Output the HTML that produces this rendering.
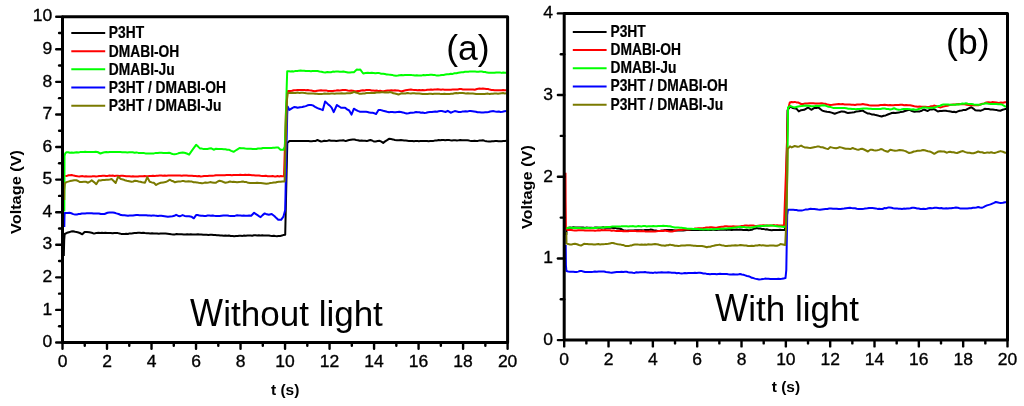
<!DOCTYPE html>
<html><head><meta charset="utf-8"><style>
html,body{margin:0;padding:0;background:#fff;width:1024px;height:406px;overflow:hidden}
svg{display:block;will-change:transform}
text{font-family:"Liberation Sans",sans-serif;fill:#000}
.tl{font-size:17.5px;stroke:#000;stroke-width:0.35px}
.lg{font-size:13.8px;font-weight:bold;stroke:#000;stroke-width:0.2px}
.at{font-size:16px;font-weight:bold}
.xt{font-size:15.5px;font-weight:bold}
.pl{font-size:35.5px}
.big{font-size:35px}
</style></head><body>
<svg width="1024" height="406" viewBox="0 0 1024 406">
<rect width="1024" height="406" fill="#fff"/>
<path d="M63.8,256.0 L64.2,240.0 L64.7,234.0 L67.0,232.8 L69.0,232.2 L70.9,231.6 L72.9,231.3 L75.2,231.8 L77.6,232.2 L79.9,233.0 L82.3,234.3 L84.6,232.0 L86.9,232.1 L89.3,232.2 L91.7,232.8 L94.0,233.6 L96.3,233.0 L98.7,232.8 L100.3,232.9 L102.0,232.7 L103.6,232.9 L105.3,232.8 L106.9,233.1 L108.8,232.9 L110.7,233.1 L112.5,233.3 L114.4,232.9 L116.3,233.1 L117.9,233.1 L119.6,233.5 L121.2,233.9 L122.9,233.9 L124.5,234.0 L126.2,233.8 L127.9,234.0 L129.6,233.4 L131.3,233.6 L132.9,233.2 L134.6,233.0 L136.3,232.9 L138.0,232.8 L139.7,232.8 L141.5,233.1 L143.2,232.8 L145.0,233.1 L146.8,233.3 L148.5,233.2 L150.3,233.4 L152.0,233.3 L153.8,233.6 L155.5,233.4 L157.1,233.5 L158.8,233.7 L160.5,233.6 L162.2,233.5 L163.8,233.6 L165.5,233.6 L167.5,233.8 L169.4,234.0 L171.4,234.3 L173.1,234.4 L174.8,234.4 L176.6,234.1 L178.3,234.3 L180.0,234.2 L181.8,234.2 L183.6,234.4 L185.4,234.4 L187.2,234.2 L189.0,234.6 L190.8,234.2 L192.6,234.4 L194.4,234.4 L196.1,234.6 L197.9,234.3 L199.6,234.6 L201.4,234.4 L203.2,234.7 L204.9,234.8 L206.7,234.8 L208.4,234.9 L210.2,234.8 L211.9,234.8 L213.5,235.1 L215.2,235.1 L216.9,235.2 L218.6,235.2 L220.2,235.5 L221.9,235.4 L223.7,235.7 L225.4,235.5 L227.2,235.7 L228.9,235.5 L230.7,235.9 L232.5,235.9 L234.2,236.2 L236.0,236.0 L237.6,236.1 L239.2,235.8 L240.9,235.8 L242.5,235.9 L244.1,235.5 L245.7,235.7 L247.4,235.5 L249.0,235.4 L250.6,235.4 L252.2,235.7 L253.9,235.3 L255.5,235.3 L257.1,235.4 L258.8,235.3 L260.4,235.6 L262.1,235.2 L263.8,235.4 L265.5,235.4 L267.1,235.6 L268.8,235.4 L270.4,235.7 L272.1,235.9 L273.7,235.8 L275.4,236.1 L277.0,236.3 L278.6,235.9 L280.3,235.9 L281.9,235.6 L283.6,234.9 L285.2,234.8 L286.2,190.0 L287.3,143.0 L289.4,141.1 L291.1,140.9 L292.9,141.0 L294.6,141.0 L296.4,141.1 L298.1,141.1 L299.9,141.1 L301.6,141.0 L303.3,140.9 L305.0,141.1 L306.7,141.0 L308.4,141.1 L310.1,141.3 L311.8,141.2 L313.5,141.1 L315.2,141.1 L317.5,140.0 L319.2,140.8 L321.0,141.5 L322.6,141.3 L324.3,140.8 L325.9,141.0 L327.6,140.7 L329.2,140.3 L331.0,140.7 L332.8,140.8 L334.5,140.8 L336.3,141.1 L338.1,140.8 L339.8,140.5 L341.6,140.6 L343.3,140.3 L345.7,141.1 L347.4,140.5 L349.2,140.0 L350.9,139.7 L352.7,139.4 L354.4,139.6 L356.2,140.0 L357.9,140.2 L359.7,140.8 L361.5,140.6 L363.2,140.8 L365.0,140.8 L366.8,141.1 L368.6,140.5 L370.3,140.0 L372.1,140.5 L373.8,141.5 L375.7,141.5 L377.7,141.1 L379.6,140.8 L381.4,141.7 L383.2,142.9 L385.1,141.4 L387.1,140.1 L389.0,138.8 L391.0,139.1 L392.9,139.4 L394.9,140.0 L396.9,140.2 L398.9,140.2 L400.9,140.0 L402.5,140.2 L404.2,140.4 L405.8,140.5 L407.5,140.7 L409.1,141.1 L410.7,141.0 L412.3,141.0 L414.0,141.3 L415.6,140.9 L417.2,140.9 L418.8,141.3 L420.5,141.1 L422.1,140.9 L423.7,141.1 L425.3,140.9 L427.0,141.1 L428.6,141.3 L430.2,141.1 L431.9,141.1 L433.5,140.9 L435.2,140.5 L436.9,140.4 L438.6,140.1 L440.2,140.3 L441.9,140.0 L443.6,140.0 L445.2,140.2 L446.9,140.0 L448.6,139.9 L450.3,140.3 L451.9,140.4 L453.6,140.3 L455.3,140.3 L456.9,140.4 L458.6,140.3 L460.3,140.1 L462.0,140.3 L463.6,140.2 L465.3,140.3 L467.3,140.3 L469.2,140.6 L471.2,141.1 L472.9,140.9 L474.5,140.8 L476.2,140.9 L477.9,140.9 L479.6,140.5 L481.2,140.6 L482.9,140.3 L484.9,140.9 L486.8,141.3 L488.8,141.5 L490.4,141.4 L492.0,141.2 L493.6,141.2 L495.2,141.1 L496.8,141.0 L498.5,141.2 L500.1,141.3 L501.7,141.2 L503.3,140.9 L504.9,140.9 L506.5,140.8" fill="none" stroke="#000000" stroke-width="2.0" stroke-linejoin="round"/>
<path d="M65.3,176.0 L66.9,175.9 L68.5,175.3 L70.1,175.3 L71.7,175.0 L73.7,175.6 L75.6,175.9 L77.6,176.2 L79.3,176.4 L80.9,176.2 L82.6,176.1 L84.3,176.5 L86.0,176.3 L87.6,176.5 L89.3,176.4 L91.0,176.6 L92.6,176.2 L94.3,176.2 L96.0,176.4 L97.7,176.2 L99.3,175.9 L101.0,176.0 L102.7,175.8 L104.4,175.7 L106.1,176.0 L107.7,175.9 L109.4,175.5 L111.1,175.8 L112.8,175.6 L114.5,175.9 L116.1,175.8 L117.8,175.7 L119.5,175.9 L121.2,175.7 L122.8,175.7 L124.5,176.0 L126.2,176.3 L127.8,176.2 L129.5,176.2 L131.2,176.4 L132.9,176.3 L134.5,176.5 L136.2,176.4 L137.9,176.5 L139.5,176.2 L141.2,176.2 L142.9,176.2 L144.6,176.1 L146.2,176.3 L147.9,176.2 L149.6,176.0 L151.2,176.0 L152.9,175.8 L154.6,176.1 L156.3,175.7 L157.9,175.7 L159.6,175.6 L161.3,175.6 L163.0,175.8 L164.7,175.6 L166.4,175.8 L168.2,175.6 L169.9,175.6 L171.6,175.6 L173.3,175.4 L175.0,175.6 L176.7,175.6 L178.3,175.4 L180.0,175.4 L181.7,175.7 L183.4,175.4 L185.0,175.6 L186.7,175.6 L188.5,175.8 L190.2,175.8 L192.0,175.8 L193.8,176.0 L195.5,176.1 L197.3,176.3 L199.0,176.1 L200.8,176.4 L202.5,176.3 L204.2,176.0 L205.9,175.9 L207.6,176.0 L209.2,175.8 L210.9,175.7 L212.6,175.7 L214.3,175.6 L216.0,175.3 L217.8,175.2 L219.5,175.3 L221.3,175.2 L223.0,175.2 L224.8,175.2 L226.6,175.1 L228.3,175.1 L230.1,175.0 L231.8,175.3 L233.6,175.0 L235.3,175.1 L236.9,175.1 L238.6,175.1 L240.3,174.8 L242.0,174.9 L243.6,175.1 L245.3,174.8 L247.0,175.1 L248.7,174.8 L250.4,175.0 L252.0,175.2 L253.7,175.2 L255.4,175.4 L257.1,175.6 L258.9,175.5 L260.6,175.8 L262.4,176.0 L264.1,176.1 L265.9,175.8 L267.6,176.2 L269.4,176.2 L271.1,176.2 L272.7,176.0 L274.3,176.4 L275.9,176.4 L277.6,176.1 L279.2,176.4 L280.8,176.1 L282.4,176.2 L284.0,176.2 L284.8,150.0 L286.0,110.0 L287.6,91.2 L288.2,91.0 L290.1,91.0 L292.0,90.8 L293.8,90.2 L295.7,90.2 L297.6,90.0 L299.3,90.1 L300.9,90.0 L302.6,90.0 L304.3,90.1 L306.0,90.3 L307.6,90.0 L309.3,90.3 L311.3,90.6 L313.2,90.9 L315.2,91.2 L317.1,90.7 L319.1,90.5 L321.0,90.3 L322.7,90.5 L324.4,90.5 L326.1,90.4 L327.7,90.9 L329.4,90.9 L331.1,91.1 L332.8,91.0 L334.5,90.7 L336.1,90.6 L337.8,90.3 L339.5,90.6 L341.2,90.2 L342.8,90.0 L344.5,90.0 L346.2,90.1 L347.8,90.5 L349.5,90.7 L351.2,90.6 L352.9,90.7 L354.5,91.2 L356.2,91.2 L357.9,91.1 L359.5,91.0 L361.2,90.5 L362.9,90.3 L364.6,90.4 L366.2,90.1 L367.9,90.0 L369.7,89.9 L371.4,90.5 L373.2,90.5 L374.9,90.8 L376.7,90.5 L378.5,91.1 L380.2,90.8 L382.0,91.2 L383.9,91.2 L385.8,90.8 L387.6,90.6 L389.5,90.5 L391.4,90.3 L393.2,90.5 L395.0,90.3 L396.8,90.4 L398.5,90.6 L400.2,91.0 L402.0,91.2 L403.8,90.7 L405.6,90.3 L407.3,90.0 L409.1,89.8 L410.8,89.6 L412.5,89.8 L414.2,89.9 L415.9,89.9 L417.5,90.2 L419.2,90.0 L420.9,90.2 L422.6,90.1 L424.3,90.3 L426.0,90.1 L427.6,89.8 L429.3,89.8 L431.0,89.5 L432.7,89.8 L434.3,89.6 L436.0,89.4 L437.7,89.3 L439.4,89.5 L441.1,89.8 L442.7,89.4 L444.4,89.8 L446.1,89.7 L447.8,89.8 L449.5,89.7 L451.1,89.8 L452.8,89.4 L454.5,89.4 L456.2,89.4 L457.8,89.4 L459.5,89.1 L461.2,89.1 L462.9,89.4 L464.6,89.4 L466.3,89.5 L467.9,89.4 L469.6,89.5 L471.3,89.4 L473.0,89.5 L474.7,89.8 L477.0,89.0 L479.4,88.6 L481.1,88.8 L482.9,88.6 L484.6,88.7 L486.4,88.9 L488.0,89.0 L489.7,89.6 L491.3,89.9 L493.0,90.1 L494.6,90.3 L496.3,90.2 L498.0,90.2 L499.7,90.2 L501.4,90.3 L503.1,90.1 L504.8,90.3 L506.5,90.3" fill="none" stroke="#ff0000" stroke-width="2.0" stroke-linejoin="round"/>
<path d="M64.3,211.5 L64.5,156.0 L65.2,153.5 L66.4,152.3 L68.2,152.3 L69.9,152.7 L71.7,152.6 L73.4,152.8 L75.0,152.5 L76.7,152.2 L78.4,152.5 L80.1,152.1 L81.7,152.0 L83.4,152.0 L85.2,151.8 L86.9,151.9 L88.7,152.0 L90.5,152.0 L92.2,151.9 L94.0,152.0 L95.7,151.8 L97.5,152.0 L100.4,153.5 L102.5,152.8 L104.5,152.3 L106.3,152.1 L108.0,152.2 L109.8,152.0 L111.5,151.9 L113.3,152.0 L115.1,151.9 L116.8,152.1 L118.6,152.0 L120.4,152.1 L122.1,152.2 L123.9,152.2 L125.6,152.3 L127.4,152.4 L129.2,152.2 L130.9,152.2 L132.7,152.3 L134.6,152.7 L136.5,152.4 L138.3,152.9 L140.2,153.0 L142.1,153.1 L143.7,153.0 L145.4,153.4 L147.0,153.5 L148.7,153.5 L150.3,153.5 L152.2,153.5 L154.0,153.4 L155.9,152.9 L157.7,153.0 L159.6,152.8 L161.5,152.8 L163.4,153.0 L165.2,153.0 L167.1,153.0 L169.0,152.8 L170.8,153.3 L172.5,154.0 L174.3,154.3 L176.0,154.0 L177.6,153.6 L179.2,153.0 L180.9,152.7 L182.7,152.5 L184.4,152.7 L186.8,153.5 L189.1,154.6 L192.6,149.7 L196.1,144.8 L198.1,146.6 L200.2,148.6 L202.0,148.6 L203.7,149.1 L205.5,149.1 L207.4,148.9 L209.4,148.6 L211.3,148.3 L213.7,149.7 L216.0,148.8 L218.0,149.0 L219.9,149.1 L221.9,149.1 L223.7,149.2 L225.4,149.2 L227.2,149.7 L228.9,149.7 L231.2,150.9 L233.6,151.8 L235.6,150.5 L237.5,149.3 L239.5,148.0 L241.4,148.3 L243.4,148.2 L245.3,148.6 L247.2,148.8 L249.1,148.7 L250.9,148.7 L252.8,148.9 L254.7,149.1 L256.3,149.0 L258.0,148.5 L259.6,148.6 L261.3,148.5 L262.9,148.0 L264.6,148.0 L266.3,147.9 L268.0,147.9 L269.7,147.9 L271.4,147.9 L273.1,147.8 L274.8,147.8 L276.5,147.4 L278.2,147.6 L280.5,149.7 L283.4,149.7 L284.8,146.8 L285.8,120.0 L286.6,90.0 L287.2,71.3 L288.9,71.3 L290.6,71.6 L292.2,71.3 L293.9,71.4 L295.5,71.0 L297.2,71.0 L298.8,70.8 L300.6,70.6 L302.3,70.7 L304.1,70.8 L305.8,71.1 L307.6,71.1 L309.3,71.1 L310.9,71.2 L312.6,71.0 L314.2,71.1 L315.9,71.1 L317.5,71.1 L319.5,71.5 L321.4,71.7 L323.4,72.3 L325.3,72.5 L327.3,72.1 L329.2,72.3 L331.0,72.2 L332.8,71.6 L334.6,71.8 L336.3,71.4 L338.1,71.6 L339.8,71.8 L341.6,71.8 L343.3,71.6 L345.6,72.1 L348.0,72.6 L350.0,72.4 L351.9,72.3 L353.9,72.3 L356.8,69.6 L358.6,69.8 L360.3,69.6 L363.2,73.5 L365.5,73.0 L367.9,72.8 L369.8,72.9 L371.7,72.7 L373.5,73.0 L375.4,73.3 L377.3,73.1 L379.3,73.1 L381.2,73.7 L383.2,73.7 L384.9,74.0 L386.7,74.4 L388.4,74.6 L390.2,74.7 L392.2,74.9 L394.1,75.6 L396.1,75.8 L397.9,75.6 L399.6,75.3 L401.4,75.1 L403.2,75.2 L404.9,75.0 L406.7,74.9 L408.4,74.9 L410.0,74.9 L411.7,75.1 L413.4,75.2 L415.1,75.5 L416.7,75.2 L418.4,75.5 L420.1,75.5 L421.8,75.4 L423.5,75.0 L425.1,75.3 L426.8,75.0 L428.5,75.0 L430.2,74.7 L431.8,74.8 L433.5,75.0 L435.1,75.1 L436.8,75.6 L438.4,75.5 L440.1,75.3 L441.9,75.0 L443.6,74.9 L445.4,74.6 L447.1,74.3 L448.9,74.3 L450.8,73.8 L452.7,73.9 L454.5,73.3 L456.4,73.3 L458.3,72.8 L460.0,72.5 L461.6,72.3 L463.3,72.2 L465.0,71.8 L466.7,71.7 L468.3,71.8 L470.0,71.4 L471.7,71.6 L473.4,71.6 L475.1,71.6 L476.7,71.7 L478.4,71.8 L480.1,71.6 L481.8,71.6 L483.6,72.0 L485.3,72.0 L487.1,72.6 L488.8,72.8 L490.7,72.7 L492.6,72.8 L494.4,72.8 L496.3,72.5 L498.2,72.6 L499.9,72.4 L501.5,72.9 L503.2,72.5 L504.8,72.7 L506.5,72.8" fill="none" stroke="#00ff00" stroke-width="2.0" stroke-linejoin="round"/>
<path d="M64.3,227.0 L64.5,216.0 L64.7,213.1 L67.1,212.9 L69.4,212.8 L71.3,213.3 L73.3,214.1 L75.2,214.6 L76.8,214.6 L78.5,214.0 L80.1,214.0 L81.8,213.5 L83.4,213.4 L85.1,213.4 L86.8,213.3 L88.5,213.2 L90.1,213.2 L91.8,213.3 L93.5,213.6 L95.2,213.4 L97.1,213.5 L98.9,213.5 L100.8,214.0 L102.6,214.1 L104.5,214.0 L107.5,212.8 L109.3,212.6 L111.0,212.4 L112.8,212.4 L114.5,212.7 L116.3,213.4 L118.7,214.0 L121.0,215.1 L122.8,215.2 L124.5,215.2 L126.2,215.4 L128.0,215.7 L129.6,215.5 L131.3,215.5 L132.9,215.5 L134.6,215.3 L136.2,215.1 L137.9,215.1 L139.5,215.2 L141.2,215.3 L142.9,215.3 L144.6,215.3 L146.2,215.2 L147.9,215.5 L149.6,215.4 L151.2,215.8 L152.9,215.4 L154.6,215.6 L156.3,215.7 L157.9,215.9 L159.6,215.7 L161.3,215.8 L162.9,216.0 L164.6,216.2 L166.2,216.4 L167.9,216.7 L170.2,216.5 L172.5,216.3 L174.3,215.8 L176.1,214.8 L177.9,215.7 L179.7,216.3 L182.6,215.1 L184.6,215.9 L186.7,216.3 L189.1,216.3 L191.4,216.7 L193.8,218.3 L196.1,215.1 L197.7,215.0 L199.4,215.6 L201.0,215.8 L202.7,215.8 L204.3,216.0 L205.9,215.9 L207.6,215.6 L209.2,215.6 L210.9,215.8 L212.5,215.5 L214.2,215.8 L216.0,215.9 L217.8,216.1 L219.5,216.0 L221.5,215.7 L223.4,215.5 L225.4,215.5 L227.2,215.5 L228.9,215.8 L230.7,216.0 L232.4,216.0 L234.8,215.9 L237.1,215.3 L238.7,215.5 L240.4,215.5 L242.0,215.7 L243.7,215.6 L245.3,215.7 L247.3,215.7 L249.2,215.5 L251.2,215.7 L254.1,212.8 L257.1,214.8 L258.9,216.1 L260.6,217.1 L262.6,215.1 L264.7,213.4 L266.8,214.3 L268.8,214.8 L271.7,214.0 L274.6,216.3 L276.4,218.1 L278.2,219.8 L281.1,219.8 L283.4,216.7 L285.2,209.9 L286.2,160.0 L287.2,115.0 L287.6,106.4 L289.4,109.9 L291.8,108.4 L294.1,107.0 L295.9,107.2 L297.6,107.8 L300.0,107.3 L302.3,107.0 L304.1,106.6 L305.8,106.1 L307.6,105.3 L309.3,105.0 L311.1,105.0 L312.8,105.4 L315.1,106.8 L317.5,108.1 L319.3,108.8 L321.0,109.4 L322.8,110.1 L325.1,101.5 L326.7,102.9 L328.4,104.6 L330.0,105.8 L331.6,107.6 L333.7,112.2 L336.9,105.0 L338.9,106.3 L341.0,107.8 L343.1,107.8 L345.1,107.8 L347.1,109.4 L349.2,110.5 L351.5,114.6 L353.9,108.7 L355.8,109.8 L357.8,110.9 L359.7,111.7 L362.0,111.7 L364.4,111.7 L366.0,111.8 L367.7,112.0 L369.3,112.6 L371.0,112.7 L372.6,112.8 L374.4,113.3 L376.1,114.0 L378.5,109.9 L380.9,110.1 L383.2,110.8 L385.1,111.3 L387.1,111.8 L389.0,112.2 L390.7,112.1 L392.4,112.0 L394.1,112.2 L395.8,112.3 L397.5,111.9 L399.2,111.8 L400.9,112.0 L402.8,112.4 L404.8,113.0 L406.7,113.5 L408.6,113.3 L410.5,112.7 L412.3,112.7 L414.2,112.4 L416.1,112.0 L417.7,112.2 L419.4,112.2 L421.0,112.8 L422.7,112.6 L424.3,112.9 L426.2,112.8 L428.1,112.3 L429.9,112.0 L431.8,112.1 L433.7,111.7 L435.3,111.5 L437.0,111.7 L438.6,111.3 L440.3,111.1 L441.9,111.1 L443.6,111.4 L445.4,112.0 L447.8,110.8 L450.7,112.7 L452.8,111.9 L454.8,111.1 L456.8,111.5 L458.7,111.9 L460.7,112.0 L462.3,111.6 L464.0,111.6 L465.6,111.3 L467.3,111.5 L468.9,111.1 L470.6,111.1 L472.4,111.3 L474.1,111.5 L475.9,111.8 L477.6,112.3 L479.4,112.3 L481.4,112.5 L483.3,112.4 L485.3,112.3 L486.9,112.3 L488.6,112.0 L490.2,111.5 L491.9,111.2 L493.5,111.1 L495.2,111.5 L497.0,111.7 L498.8,111.5 L500.5,112.0 L502.5,111.8 L504.5,111.3 L506.5,111.1" fill="none" stroke="#0000ff" stroke-width="2.0" stroke-linejoin="round"/>
<path d="M64.2,200.0 L64.3,190.0 L64.9,183.2 L66.4,182.1 L68.2,181.6 L69.9,181.1 L71.7,180.7 L74.1,180.3 L76.4,180.3 L78.2,181.0 L79.9,182.1 L81.9,181.9 L83.8,181.8 L85.8,181.8 L88.1,182.7 L89.9,181.7 L91.7,180.3 L94.0,182.1 L96.3,184.2 L98.7,180.3 L100.6,180.4 L102.6,180.0 L104.5,180.0 L106.3,179.7 L108.0,179.7 L109.8,179.5 L111.6,179.1 L113.7,181.0 L115.7,183.0 L118.0,176.8 L121.0,179.1 L122.9,179.4 L124.9,180.2 L126.8,180.7 L129.2,181.2 L131.5,181.8 L133.2,181.5 L135.0,180.7 L136.8,180.9 L138.5,181.5 L140.3,181.8 L142.1,182.3 L145.0,182.7 L147.3,177.1 L149.7,181.8 L151.8,182.4 L153.8,182.7 L156.1,185.0 L158.4,183.6 L160.8,182.7 L163.2,182.4 L165.5,182.1 L167.6,181.1 L169.6,179.7 L171.4,180.7 L173.1,181.2 L174.9,182.3 L176.7,181.8 L178.4,181.5 L180.2,181.6 L182.0,181.1 L183.6,181.1 L185.3,181.4 L186.9,181.5 L188.6,181.3 L190.2,181.5 L191.9,181.6 L193.6,182.2 L195.3,182.3 L196.9,182.4 L198.6,182.8 L200.3,182.9 L202.0,183.2 L203.6,182.9 L205.3,182.5 L206.9,182.7 L208.6,182.5 L210.2,182.1 L212.1,182.4 L214.1,182.7 L216.0,182.7 L217.8,181.5 L219.5,180.7 L221.5,181.2 L223.4,182.0 L225.4,182.7 L227.8,182.3 L230.1,181.5 L231.8,181.9 L233.6,181.8 L235.3,182.0 L237.1,182.3 L239.1,182.0 L241.0,181.8 L243.0,181.5 L244.8,182.1 L246.5,182.1 L248.2,182.8 L250.0,183.0 L251.8,183.0 L253.6,183.0 L255.3,182.9 L257.1,182.7 L259.0,183.0 L260.8,183.1 L262.7,183.3 L264.5,183.5 L266.4,183.8 L268.4,183.6 L270.3,182.9 L272.3,182.7 L273.9,182.4 L275.6,182.5 L277.2,182.0 L278.9,181.8 L280.5,181.8 L282.6,181.4 L284.6,181.5 L285.8,140.0 L287.0,100.0 L287.5,93.5 L288.5,93.0 L290.3,92.9 L292.1,92.8 L294.0,93.0 L295.8,92.9 L297.6,92.6 L299.4,93.0 L301.1,92.7 L302.9,92.8 L304.6,92.9 L306.4,93.2 L308.2,93.4 L309.9,93.4 L311.7,93.4 L313.4,93.6 L315.2,93.8 L316.8,93.8 L318.4,93.9 L320.0,93.9 L321.6,93.9 L323.2,93.8 L324.8,93.5 L326.4,93.8 L328.0,93.6 L329.6,93.7 L331.2,93.6 L332.8,93.6 L334.6,93.7 L336.3,93.4 L338.1,93.4 L339.8,93.4 L341.6,93.3 L343.3,93.6 L345.1,93.4 L346.8,93.3 L348.6,93.3 L350.3,93.3 L352.1,92.8 L353.9,91.8 L355.8,92.5 L357.8,93.0 L359.7,93.8 L361.3,93.8 L363.0,93.6 L364.6,93.6 L366.3,93.0 L367.9,93.0 L369.6,92.9 L371.2,93.0 L372.9,93.0 L374.6,93.0 L376.3,92.5 L377.9,92.6 L379.6,92.6 L381.4,92.3 L383.1,92.3 L384.9,92.6 L386.7,92.3 L388.4,92.4 L390.2,92.1 L391.8,92.5 L393.4,93.3 L395.0,93.6 L396.8,94.0 L398.5,94.5 L400.2,93.8 L402.0,93.3 L403.8,93.4 L405.5,93.5 L407.3,93.1 L409.1,93.3 L410.8,93.4 L412.6,93.3 L414.3,93.3 L415.9,93.5 L417.6,93.5 L419.3,93.6 L421.0,93.7 L422.6,94.0 L424.3,94.1 L426.0,94.1 L427.6,93.9 L429.3,93.7 L431.0,93.8 L432.7,94.0 L434.3,93.7 L436.0,93.8 L437.7,93.7 L439.4,93.7 L441.1,94.1 L442.7,94.0 L444.4,93.8 L446.1,93.9 L447.8,94.1 L449.5,93.9 L451.1,93.8 L452.8,93.7 L454.5,93.3 L456.2,93.1 L457.8,93.3 L459.5,93.0 L461.2,93.0 L462.8,93.1 L464.5,93.2 L466.2,93.6 L467.9,93.3 L469.5,93.5 L471.2,93.6 L472.9,93.6 L474.5,93.7 L476.2,94.0 L477.9,94.1 L479.6,93.9 L481.2,93.9 L482.9,94.1 L484.6,94.1 L486.2,93.8 L487.9,93.6 L489.6,94.0 L491.3,93.7 L492.9,93.8 L494.6,93.6 L496.3,93.5 L498.0,93.7 L499.7,93.5 L501.4,93.3 L503.1,93.1 L504.8,93.4 L506.5,93.3" fill="none" stroke="#7a7a00" stroke-width="2.0" stroke-linejoin="round"/>
<path d="M566.3,235.0 L566.7,228.0 L568.4,227.8 L570.0,227.5 L571.7,227.7 L573.3,227.3 L575.0,227.6 L576.7,227.5 L578.3,227.6 L580.0,227.4 L581.7,227.5 L583.3,227.6 L585.0,227.9 L586.7,227.5 L588.3,227.7 L590.0,227.7 L591.7,227.8 L593.3,227.9 L595.0,227.5 L596.7,227.4 L598.3,227.8 L600.0,227.8 L601.7,227.6 L603.3,227.3 L605.0,227.8 L606.7,227.5 L608.3,227.7 L610.0,227.5 L611.7,227.8 L613.3,228.1 L615.0,227.9 L616.7,228.4 L618.3,228.4 L620.0,228.7 L621.7,229.3 L623.3,230.1 L625.0,230.6 L626.7,230.7 L628.3,230.4 L630.0,230.4 L631.7,230.4 L633.3,230.4 L635.0,230.3 L636.7,230.2 L638.3,230.2 L640.0,230.3 L641.7,230.3 L643.4,230.4 L645.1,229.9 L646.9,230.0 L648.6,230.1 L650.3,229.6 L652.0,229.8 L654.0,230.4 L656.0,230.5 L658.0,231.1 L659.8,230.9 L661.5,230.6 L663.2,230.4 L665.0,230.1 L666.8,230.0 L668.5,230.1 L670.2,230.1 L672.0,230.1 L673.6,230.2 L675.2,230.4 L676.8,230.4 L678.4,230.5 L680.0,230.6 L681.7,230.2 L683.3,230.4 L685.0,230.2 L686.7,230.0 L688.3,230.1 L690.0,229.9 L691.7,230.1 L693.3,229.9 L695.0,229.8 L696.7,230.0 L698.3,229.9 L700.0,230.1 L701.7,229.9 L703.3,230.0 L705.0,229.8 L706.7,229.9 L708.3,229.9 L710.0,229.7 L711.7,229.9 L713.3,229.6 L715.0,229.9 L716.7,229.9 L718.3,229.7 L720.0,229.7 L721.7,229.5 L723.3,229.7 L725.0,229.6 L726.7,229.9 L728.3,229.5 L730.0,229.8 L731.7,229.9 L733.3,229.7 L735.0,229.8 L736.7,229.5 L738.3,229.8 L740.0,229.6 L741.7,229.7 L743.3,230.0 L745.0,230.1 L746.7,229.8 L748.3,230.2 L750.0,230.1 L751.8,229.8 L753.5,228.9 L755.2,228.5 L757.0,228.1 L758.6,228.5 L760.2,228.4 L761.9,229.0 L763.5,228.9 L765.1,229.4 L766.8,229.3 L768.4,229.8 L770.0,230.0 L771.7,230.2 L773.3,229.9 L775.0,229.9 L776.7,230.0 L778.3,230.0 L780.0,229.8 L781.7,229.9 L783.3,229.9 L785.0,230.1 L786.5,170.0 L787.6,110.0 L790.2,106.7 L792.2,107.7 L794.1,108.3 L796.4,108.7 L798.8,111.4 L801.1,110.2 L804.2,109.8 L806.2,108.7 L808.1,107.5 L811.3,109.8 L814.4,107.9 L816.3,107.9 L818.3,107.5 L820.2,108.9 L822.2,110.6 L824.5,111.3 L826.9,111.8 L829.2,112.0 L831.6,112.6 L834.7,113.8 L837.8,112.6 L839.8,112.0 L841.7,111.4 L844.8,111.8 L846.4,112.5 L848.0,113.1 L850.0,112.8 L851.9,112.6 L854.2,112.2 L856.6,111.4 L858.7,111.2 L860.7,110.9 L862.8,110.6 L865.1,112.2 L867.5,113.4 L869.6,113.6 L871.7,114.4 L873.8,114.5 L875.8,115.1 L877.7,115.4 L879.6,116.1 L881.6,116.5 L883.7,115.7 L885.7,115.4 L887.8,114.5 L889.8,113.8 L891.7,113.0 L893.5,112.8 L895.2,112.9 L897.0,112.7 L898.8,112.6 L900.9,111.9 L902.9,111.7 L905.0,111.0 L907.4,110.2 L909.7,109.8 L912.0,111.0 L914.4,111.8 L916.2,111.5 L918.0,111.6 L919.8,111.4 L921.8,110.7 L923.8,109.5 L925.8,110.3 L927.7,111.0 L930.0,109.5 L932.0,109.4 L933.9,109.1 L935.8,110.2 L937.8,111.5 L939.8,111.1 L941.7,110.9 L943.6,110.7 L945.6,110.7 L947.3,111.0 L949.0,111.2 L950.7,111.5 L952.4,112.0 L954.1,111.8 L955.8,112.3 L957.8,111.4 L959.7,110.7 L961.8,110.5 L963.8,109.9 L965.9,109.9 L967.7,108.8 L969.6,108.0 L971.4,107.2 L973.3,108.6 L975.3,110.3 L977.1,110.4 L979.0,110.4 L980.8,110.7 L982.8,109.8 L984.7,108.8 L986.7,109.0 L988.6,109.0 L990.5,109.4 L992.5,109.5 L994.5,109.8 L996.4,109.9 L998.3,110.6 L1000.3,110.7 L1002.6,109.8 L1005.0,109.1 L1006.5,109.1" fill="none" stroke="#000000" stroke-width="2.0" stroke-linejoin="round"/>
<path d="M565.5,172.8 L565.6,200.0 L565.9,228.5 L567.5,230.1 L569.3,230.0 L571.1,230.0 L572.9,230.3 L574.6,230.4 L576.4,230.4 L578.2,230.2 L580.0,230.3 L581.7,230.2 L583.3,230.2 L585.0,230.5 L586.7,230.5 L588.3,230.5 L590.0,230.6 L591.7,230.6 L593.3,230.5 L595.0,230.7 L596.7,230.5 L598.3,230.2 L600.0,230.5 L601.7,230.0 L603.3,230.2 L605.0,230.1 L606.7,230.2 L608.3,230.2 L610.0,230.2 L611.7,230.7 L613.3,230.4 L615.0,230.8 L616.7,231.1 L618.3,230.8 L620.0,231.1 L621.7,230.9 L623.3,231.2 L625.0,231.1 L626.7,231.2 L628.3,231.3 L630.0,230.9 L631.7,231.0 L633.3,231.0 L635.0,230.9 L636.7,231.3 L638.3,231.2 L640.0,231.1 L641.7,231.3 L643.3,231.0 L645.0,231.4 L646.7,231.4 L648.3,231.4 L650.0,231.6 L651.7,231.5 L653.3,231.4 L655.0,231.6 L656.7,231.2 L658.3,231.1 L660.0,230.9 L661.7,230.9 L663.3,230.9 L665.0,230.6 L666.8,230.9 L668.5,231.3 L670.2,231.5 L672.0,231.6 L674.0,231.0 L676.0,230.6 L678.0,230.1 L679.7,229.9 L681.4,230.0 L683.1,229.7 L684.9,229.5 L686.6,229.5 L688.3,229.6 L690.0,229.2 L691.7,228.9 L693.3,229.1 L695.0,228.5 L696.7,228.4 L698.3,228.2 L700.0,228.2 L701.7,228.2 L703.3,228.1 L705.0,227.8 L706.7,227.4 L708.3,227.6 L710.0,227.2 L711.7,227.3 L713.3,227.4 L715.0,227.7 L716.7,227.7 L718.3,227.3 L720.0,227.0 L721.7,226.8 L723.3,226.7 L725.0,226.2 L726.7,226.2 L728.3,226.4 L730.0,226.4 L731.7,226.5 L733.3,226.3 L735.0,226.5 L736.7,226.5 L738.3,226.4 L740.0,226.5 L741.7,226.0 L743.3,225.9 L745.0,225.5 L746.7,225.4 L748.3,225.8 L750.0,225.5 L751.7,225.5 L753.3,225.6 L755.0,225.9 L756.7,226.0 L758.3,225.7 L760.0,225.5 L761.7,225.4 L763.3,225.3 L765.0,225.5 L766.7,225.6 L768.5,225.5 L770.2,225.5 L771.9,225.5 L773.6,225.1 L775.4,225.4 L777.1,225.2 L778.8,225.4 L780.5,225.4 L782.3,225.4 L784.0,225.2 L786.8,150.0 L787.8,110.6 L789.8,102.4 L791.5,102.0 L793.1,102.3 L794.8,101.9 L796.4,102.4 L798.0,102.4 L801.1,104.0 L803.2,104.0 L805.2,103.4 L807.3,103.4 L809.3,103.3 L811.2,103.3 L813.2,103.3 L815.2,103.6 L817.3,103.6 L819.3,103.5 L821.4,103.2 L823.3,103.6 L825.3,103.8 L827.6,104.6 L830.0,105.0 L832.4,104.8 L834.7,104.5 L836.8,104.3 L838.8,104.1 L840.9,104.2 L842.7,104.1 L844.6,104.5 L846.4,104.5 L848.1,104.5 L849.8,104.6 L851.6,104.8 L853.3,104.7 L855.0,105.0 L857.0,104.6 L858.9,104.4 L860.8,104.4 L862.8,104.0 L864.9,104.4 L867.0,104.8 L869.1,105.3 L871.0,105.6 L872.8,105.4 L874.7,105.6 L876.5,105.5 L878.4,105.5 L880.5,105.0 L882.6,105.0 L884.7,104.8 L886.5,104.9 L888.2,105.2 L890.0,105.1 L891.7,105.3 L893.4,105.3 L895.1,105.1 L896.9,104.9 L898.6,105.1 L900.3,104.8 L902.2,104.7 L904.2,105.2 L906.1,104.9 L908.1,105.2 L910.2,105.3 L912.3,105.8 L914.4,106.3 L916.1,106.5 L917.9,106.7 L919.6,106.4 L921.4,106.7 L923.4,106.7 L925.3,106.8 L927.2,107.0 L929.2,106.9 L931.0,106.3 L932.9,106.0 L934.7,105.6 L936.8,106.1 L938.8,107.0 L940.9,107.4 L943.2,106.6 L945.6,106.0 L947.5,105.8 L949.5,105.1 L951.5,104.7 L953.4,104.5 L955.3,104.5 L957.2,104.3 L959.0,104.1 L960.9,104.2 L962.8,104.1 L964.8,104.2 L966.7,104.8 L968.6,105.0 L970.6,105.2 L972.5,105.3 L974.5,105.3 L976.5,105.1 L978.4,105.2 L980.4,104.5 L982.3,103.8 L984.3,103.4 L986.3,102.5 L988.2,102.2 L990.2,102.6 L992.1,102.1 L994.1,102.3 L996.5,102.5 L998.8,102.9 L1000.9,102.6 L1002.9,102.7 L1005.0,102.3 L1006.5,102.3" fill="none" stroke="#ff0000" stroke-width="2.0" stroke-linejoin="round"/>
<path d="M566.7,229.0 L567.5,227.7 L569.3,227.7 L571.1,227.7 L572.9,228.0 L574.6,227.7 L576.4,227.9 L578.2,228.0 L580.0,228.0 L581.7,228.2 L583.3,228.2 L585.0,228.2 L586.7,228.1 L588.3,228.1 L590.0,228.2 L591.7,227.9 L593.3,228.1 L595.0,227.9 L596.7,227.9 L598.3,227.5 L600.0,227.5 L601.7,227.4 L603.3,227.4 L605.0,227.2 L606.7,226.9 L608.3,226.9 L610.0,227.0 L611.7,226.6 L613.3,226.5 L615.0,226.5 L616.7,226.4 L618.3,226.6 L620.0,226.6 L621.7,226.2 L623.3,226.2 L625.0,226.3 L626.7,226.3 L628.3,226.4 L630.0,226.2 L631.7,226.2 L633.3,226.1 L635.0,226.5 L636.7,226.4 L638.3,226.0 L640.0,226.2 L641.7,226.4 L643.3,226.0 L645.0,226.1 L646.7,226.4 L648.3,226.3 L650.0,226.3 L651.7,226.2 L653.3,226.0 L655.0,226.2 L656.7,226.2 L658.3,225.9 L660.0,225.9 L661.7,225.9 L663.3,225.7 L665.0,225.9 L666.7,225.9 L668.3,226.2 L670.0,226.2 L671.7,226.7 L673.3,227.1 L675.0,227.5 L676.7,227.6 L678.3,227.6 L680.0,227.7 L681.7,227.7 L683.3,228.1 L685.0,228.2 L686.7,228.5 L688.3,228.7 L690.0,228.7 L691.7,228.7 L693.3,228.9 L695.0,229.1 L696.7,229.0 L698.3,229.0 L700.0,229.2 L701.7,229.3 L703.3,229.4 L705.0,229.3 L706.7,229.3 L708.3,229.4 L710.0,229.3 L711.7,229.3 L713.3,229.2 L715.0,229.2 L716.7,229.0 L718.3,229.0 L720.0,228.7 L721.7,228.7 L723.3,228.8 L725.0,228.6 L726.7,228.5 L728.3,228.2 L730.0,228.2 L731.7,227.9 L733.3,227.7 L735.0,227.6 L736.7,227.2 L738.3,227.1 L740.0,226.8 L741.7,227.2 L743.3,226.9 L745.0,227.3 L746.7,227.5 L748.3,227.5 L750.0,227.7 L751.7,227.4 L753.3,227.3 L755.0,226.6 L756.7,226.5 L758.3,226.0 L760.0,225.9 L761.7,226.0 L763.4,226.0 L765.1,225.7 L766.9,225.5 L768.6,225.7 L770.3,225.6 L772.0,225.5 L773.7,225.8 L775.4,225.9 L777.1,226.2 L778.9,226.5 L780.6,226.6 L782.3,226.7 L784.0,227.0 L786.2,226.0 L787.4,170.0 L788.0,107.5 L790.2,105.9 L792.5,106.9 L794.8,107.5 L797.1,106.8 L799.5,106.3 L801.6,106.1 L803.7,105.7 L805.8,105.5 L807.5,105.8 L809.3,105.7 L811.0,106.3 L812.8,106.3 L814.9,106.1 L816.9,105.8 L819.0,105.9 L821.4,105.5 L823.8,105.3 L826.1,105.9 L828.4,106.7 L830.8,107.1 L833.1,107.9 L835.0,107.9 L836.9,107.9 L838.7,108.1 L840.6,108.0 L842.5,108.1 L844.5,108.1 L846.4,108.3 L848.3,108.7 L850.3,108.7 L852.1,109.1 L854.0,109.1 L855.8,109.3 L857.6,109.0 L859.5,109.1 L861.3,108.7 L863.2,108.6 L865.0,108.6 L866.9,108.5 L868.7,108.8 L870.6,108.7 L872.5,109.0 L874.5,109.0 L876.5,109.0 L878.4,109.1 L880.5,108.9 L882.6,108.5 L884.7,108.4 L886.5,109.0 L888.4,109.1 L890.2,109.5 L892.2,109.0 L894.1,108.3 L896.5,109.2 L898.8,109.8 L901.1,109.6 L903.4,109.1 L905.5,109.1 L907.6,109.1 L909.7,109.2 L911.5,109.4 L913.2,109.3 L915.0,109.8 L916.7,109.8 L918.8,109.0 L920.9,108.4 L923.0,107.5 L925.1,107.5 L927.1,107.7 L929.2,107.9 L931.0,107.7 L932.9,107.7 L934.7,107.6 L936.4,106.8 L938.1,106.1 L939.9,105.9 L941.6,105.0 L943.3,104.5 L945.0,104.4 L946.7,104.5 L948.3,104.6 L950.0,104.7 L951.7,104.8 L953.4,104.8 L955.2,104.7 L957.0,104.3 L958.8,104.4 L960.5,104.1 L962.3,103.5 L964.1,103.7 L965.9,103.3 L967.9,103.8 L969.8,104.0 L971.8,104.0 L973.8,104.5 L975.9,104.8 L977.9,104.8 L980.0,104.8 L982.1,104.1 L984.2,103.6 L986.3,103.3 L988.4,103.8 L990.4,103.9 L992.5,104.1 L994.4,104.1 L996.3,104.1 L998.1,104.2 L1000.0,104.3 L1001.9,104.5 L1005.0,106.4 L1006.5,106.5" fill="none" stroke="#00ff00" stroke-width="2.0" stroke-linejoin="round"/>
<path d="M565.7,245.0 L565.9,265.0 L566.4,271.1 L568.2,271.5 L570.0,271.7 L571.7,271.8 L573.3,271.8 L575.0,272.1 L576.6,272.0 L578.2,271.6 L579.9,271.0 L581.5,270.9 L583.2,271.6 L585.0,272.0 L586.7,272.0 L588.3,272.0 L590.0,271.9 L591.7,271.9 L593.3,271.8 L595.0,271.6 L596.8,271.7 L598.6,271.4 L600.4,271.6 L602.2,271.5 L604.0,271.5 L606.0,272.0 L608.0,272.2 L610.0,272.6 L611.7,272.7 L613.3,272.4 L615.0,272.2 L616.7,272.1 L618.3,272.0 L620.0,272.1 L621.7,271.8 L623.3,271.9 L625.0,271.8 L626.6,271.8 L628.2,272.2 L629.8,272.4 L631.4,272.6 L633.0,272.8 L634.7,272.9 L636.4,272.3 L638.1,272.6 L639.9,272.3 L641.6,272.3 L643.3,272.2 L645.0,272.0 L646.7,272.4 L648.3,272.5 L650.0,272.8 L651.7,272.7 L653.3,272.9 L655.0,272.4 L656.7,272.7 L658.3,272.6 L660.0,272.5 L661.7,272.2 L663.3,272.5 L665.0,272.5 L666.7,272.6 L668.3,272.3 L670.0,272.4 L671.7,272.8 L673.3,272.7 L675.0,272.8 L676.7,273.2 L678.3,272.9 L680.0,273.3 L681.7,273.4 L683.3,273.3 L685.0,273.1 L686.7,273.3 L688.3,273.0 L690.0,273.0 L691.7,273.0 L693.3,273.1 L695.0,272.8 L696.7,272.9 L698.3,272.8 L700.0,272.8 L701.7,273.1 L703.3,273.4 L705.0,273.4 L706.7,273.9 L708.3,273.9 L710.0,274.2 L711.7,274.1 L713.3,274.0 L715.0,274.0 L716.7,274.2 L718.3,273.9 L720.0,273.8 L721.7,274.0 L723.3,273.9 L725.0,274.0 L726.7,274.1 L728.3,274.3 L730.0,274.4 L731.7,274.6 L733.3,274.3 L735.0,274.6 L736.7,274.5 L738.3,274.4 L740.0,274.0 L741.8,274.5 L743.5,274.8 L745.2,275.4 L747.0,276.0 L748.6,276.3 L750.2,276.9 L751.8,277.8 L753.4,278.1 L755.0,278.6 L757.0,279.1 L759.0,279.4 L761.0,279.3 L763.0,279.1 L765.0,278.6 L766.8,278.7 L768.5,278.8 L770.2,278.9 L772.0,278.9 L773.6,279.0 L775.2,279.0 L776.8,279.1 L778.4,278.8 L780.0,279.0 L781.8,278.8 L783.7,278.4 L785.5,278.1 L786.3,270.0 L787.2,215.0 L788.0,209.7 L789.9,209.8 L791.7,209.7 L793.3,209.7 L795.0,209.9 L796.6,210.0 L798.3,210.6 L799.9,210.6 L801.7,210.5 L803.4,210.1 L805.2,209.6 L807.0,209.6 L808.7,209.2 L810.5,208.8 L812.4,209.0 L814.3,209.0 L816.1,209.2 L818.0,209.5 L819.9,209.7 L821.8,209.4 L823.6,209.2 L825.5,209.1 L827.3,209.0 L829.2,208.6 L831.1,208.5 L833.0,208.8 L834.8,208.7 L836.7,208.8 L838.6,209.1 L840.5,209.0 L842.4,208.7 L844.2,208.6 L846.1,208.2 L848.0,208.0 L849.8,207.8 L851.5,208.1 L853.2,208.3 L855.0,208.3 L856.8,208.7 L858.5,208.9 L860.3,208.9 L862.1,209.1 L863.9,208.8 L865.6,208.4 L867.4,208.3 L869.1,208.0 L870.8,208.0 L872.4,208.1 L874.1,208.2 L875.8,208.4 L877.5,208.9 L879.1,208.8 L880.8,209.1 L882.6,209.0 L884.3,208.1 L886.1,208.2 L887.9,207.6 L889.7,207.6 L891.5,207.8 L893.2,208.3 L895.0,208.4 L896.8,208.4 L898.5,208.8 L900.2,208.7 L902.0,209.0 L903.7,208.6 L905.4,208.8 L907.1,208.6 L908.7,208.5 L910.4,208.3 L912.1,207.8 L913.8,207.8 L915.4,208.1 L917.1,208.4 L918.7,208.5 L920.4,209.0 L922.0,209.0 L923.6,208.7 L925.2,208.9 L926.8,208.7 L928.5,208.2 L930.1,208.0 L931.7,208.2 L933.3,208.1 L934.9,207.8 L936.5,207.7 L938.1,207.9 L939.7,208.2 L941.3,208.0 L943.0,208.5 L944.6,208.4 L946.2,208.3 L947.8,208.6 L949.4,208.3 L951.1,208.2 L952.7,207.9 L954.4,207.8 L956.0,207.5 L957.9,207.7 L959.9,208.4 L961.8,208.6 L963.7,208.5 L965.6,208.5 L967.4,208.4 L969.3,208.2 L971.2,208.2 L973.0,207.8 L974.7,207.7 L976.5,207.5 L978.2,207.0 L980.0,207.5 L981.8,207.8 L983.5,207.1 L985.3,206.2 L987.0,205.4 L988.8,204.9 L990.5,204.4 L992.3,203.6 L994.0,202.9 L995.8,202.0 L998.1,202.5 L1000.5,203.1 L1002.9,202.8 L1005.2,202.3 L1006.5,202.2" fill="none" stroke="#0000ff" stroke-width="2.0" stroke-linejoin="round"/>
<path d="M566.3,232.0 L566.5,243.4 L568.2,244.1 L570.0,244.4 L571.7,244.4 L573.3,244.1 L575.0,243.8 L577.0,244.3 L579.0,245.0 L581.0,245.6 L584.0,243.8 L585.6,244.1 L587.2,243.9 L588.8,244.2 L590.4,244.3 L592.0,244.3 L593.6,244.5 L595.2,244.5 L596.8,244.3 L598.4,244.1 L600.0,244.4 L601.7,244.2 L603.3,244.2 L605.0,244.1 L606.6,243.9 L608.2,243.8 L609.8,243.6 L611.4,243.0 L613.0,243.0 L614.8,243.5 L616.5,243.9 L618.2,244.2 L620.0,244.4 L621.8,244.9 L623.5,245.1 L625.2,245.9 L627.0,246.1 L628.6,246.0 L630.2,245.6 L631.8,245.4 L633.4,244.8 L635.0,244.6 L636.7,244.4 L638.3,244.6 L640.0,244.7 L641.7,244.5 L643.3,244.7 L645.0,244.6 L646.7,244.7 L648.3,244.3 L650.0,244.4 L651.7,244.4 L653.3,244.2 L655.0,244.1 L656.7,244.2 L658.3,244.5 L660.0,245.1 L661.7,245.4 L663.3,245.5 L665.0,245.8 L666.7,245.2 L668.3,245.2 L670.0,244.6 L671.7,245.1 L673.3,245.3 L675.0,245.8 L676.7,245.8 L678.3,245.9 L680.0,245.8 L681.7,245.5 L683.4,245.4 L685.0,245.4 L686.7,245.3 L688.4,245.2 L690.1,245.3 L691.8,245.4 L693.5,245.8 L695.2,245.7 L696.9,245.9 L698.6,245.9 L700.3,246.0 L702.0,246.1 L704.4,246.5 L706.7,247.3 L708.5,246.7 L710.2,246.8 L712.0,246.1 L713.7,245.8 L715.6,245.2 L717.6,245.1 L719.5,244.6 L721.5,245.2 L723.4,245.4 L725.4,246.1 L727.0,246.0 L728.7,245.8 L730.3,245.8 L732.0,245.5 L733.6,245.6 L735.4,245.2 L737.1,245.5 L738.9,245.3 L740.6,245.0 L742.5,245.2 L744.4,245.5 L746.2,245.5 L748.1,246.0 L750.0,246.1 L751.9,245.8 L753.8,245.9 L755.6,245.6 L757.5,245.4 L759.4,245.0 L761.1,245.4 L762.9,245.3 L764.6,245.4 L766.4,245.8 L768.2,245.7 L769.9,245.6 L771.7,245.6 L773.5,245.6 L775.2,245.8 L777.0,245.8 L778.8,245.1 L780.5,244.1 L782.9,244.5 L785.2,245.0 L786.4,220.0 L787.6,149.1 L790.0,146.4 L791.7,147.4 L794.7,146.0 L797.6,146.8 L799.4,146.4 L801.1,145.6 L802.9,146.7 L804.6,147.4 L806.6,147.4 L808.5,147.8 L810.5,148.0 L812.9,147.5 L815.2,147.1 L817.0,146.6 L818.7,146.4 L820.6,147.2 L822.6,147.3 L824.5,148.0 L826.3,148.6 L828.1,149.1 L830.4,147.1 L832.4,147.6 L834.3,148.1 L836.3,148.3 L838.0,147.8 L839.8,147.1 L841.8,147.6 L843.7,148.2 L845.7,148.8 L848.0,148.8 L850.3,149.1 L852.7,148.0 L854.6,148.8 L856.6,149.4 L858.5,149.7 L860.3,149.1 L862.1,148.8 L864.0,149.5 L866.0,150.5 L867.9,151.5 L870.3,149.7 L872.0,149.8 L873.8,150.2 L875.5,150.4 L877.3,150.3 L879.0,149.9 L880.8,149.1 L882.6,149.5 L884.3,150.6 L886.1,151.2 L887.9,151.8 L890.2,149.7 L892.6,150.3 L895.0,150.7 L897.4,150.6 L899.7,150.1 L901.7,150.2 L903.6,150.6 L905.6,151.1 L907.4,152.2 L909.1,153.0 L911.5,152.5 L913.8,151.5 L915.7,151.3 L917.5,150.8 L919.4,150.7 L921.2,150.5 L923.1,150.1 L924.7,150.3 L926.4,150.8 L928.0,151.2 L929.7,151.5 L931.3,152.1 L934.3,153.8 L936.3,152.6 L938.4,151.5 L940.3,151.3 L942.3,151.4 L944.2,151.5 L946.6,152.7 L948.4,152.1 L950.1,151.8 L951.9,152.2 L953.6,152.2 L955.4,152.8 L957.1,153.0 L959.1,152.2 L961.0,151.5 L963.0,151.1 L965.4,152.1 L967.7,152.7 L969.6,152.7 L971.6,153.3 L973.5,153.2 L975.9,152.5 L978.2,151.5 L980.2,152.2 L982.1,152.3 L984.1,153.0 L985.9,152.8 L987.6,152.4 L989.4,152.7 L991.1,152.3 L992.9,152.8 L994.6,153.0 L996.6,152.4 L998.5,151.7 L1000.5,151.1 L1002.9,151.8 L1005.2,152.7 L1006.5,152.8" fill="none" stroke="#7a7a00" stroke-width="2.0" stroke-linejoin="round"/>
<path d="M62.5,16.7 H507.6 V342.5 H62.5 Z" fill="none" stroke="#000" stroke-width="3" stroke-linejoin="round"/>
<line x1="62.50" y1="342.5" x2="62.50" y2="348.8" stroke="#000" stroke-width="2.4" stroke-linecap="round"/>
<text transform="translate(62.50,367.3) scale(1,0.95)" class="tl" text-anchor="middle">0</text>
<line x1="84.75" y1="342.5" x2="84.75" y2="345.8" stroke="#000" stroke-width="2.4" stroke-linecap="round"/>
<line x1="107.01" y1="342.5" x2="107.01" y2="348.8" stroke="#000" stroke-width="2.4" stroke-linecap="round"/>
<text transform="translate(107.01,367.3) scale(1,0.95)" class="tl" text-anchor="middle">2</text>
<line x1="129.27" y1="342.5" x2="129.27" y2="345.8" stroke="#000" stroke-width="2.4" stroke-linecap="round"/>
<line x1="151.52" y1="342.5" x2="151.52" y2="348.8" stroke="#000" stroke-width="2.4" stroke-linecap="round"/>
<text transform="translate(151.52,367.3) scale(1,0.95)" class="tl" text-anchor="middle">4</text>
<line x1="173.78" y1="342.5" x2="173.78" y2="345.8" stroke="#000" stroke-width="2.4" stroke-linecap="round"/>
<line x1="196.03" y1="342.5" x2="196.03" y2="348.8" stroke="#000" stroke-width="2.4" stroke-linecap="round"/>
<text transform="translate(196.03,367.3) scale(1,0.95)" class="tl" text-anchor="middle">6</text>
<line x1="218.29" y1="342.5" x2="218.29" y2="345.8" stroke="#000" stroke-width="2.4" stroke-linecap="round"/>
<line x1="240.54" y1="342.5" x2="240.54" y2="348.8" stroke="#000" stroke-width="2.4" stroke-linecap="round"/>
<text transform="translate(240.54,367.3) scale(1,0.95)" class="tl" text-anchor="middle">8</text>
<line x1="262.80" y1="342.5" x2="262.80" y2="345.8" stroke="#000" stroke-width="2.4" stroke-linecap="round"/>
<line x1="285.05" y1="342.5" x2="285.05" y2="348.8" stroke="#000" stroke-width="2.4" stroke-linecap="round"/>
<text transform="translate(285.05,367.3) scale(1,0.95)" class="tl" text-anchor="middle">10</text>
<line x1="307.31" y1="342.5" x2="307.31" y2="345.8" stroke="#000" stroke-width="2.4" stroke-linecap="round"/>
<line x1="329.56" y1="342.5" x2="329.56" y2="348.8" stroke="#000" stroke-width="2.4" stroke-linecap="round"/>
<text transform="translate(329.56,367.3) scale(1,0.95)" class="tl" text-anchor="middle">12</text>
<line x1="351.82" y1="342.5" x2="351.82" y2="345.8" stroke="#000" stroke-width="2.4" stroke-linecap="round"/>
<line x1="374.07" y1="342.5" x2="374.07" y2="348.8" stroke="#000" stroke-width="2.4" stroke-linecap="round"/>
<text transform="translate(374.07,367.3) scale(1,0.95)" class="tl" text-anchor="middle">14</text>
<line x1="396.33" y1="342.5" x2="396.33" y2="345.8" stroke="#000" stroke-width="2.4" stroke-linecap="round"/>
<line x1="418.58" y1="342.5" x2="418.58" y2="348.8" stroke="#000" stroke-width="2.4" stroke-linecap="round"/>
<text transform="translate(418.58,367.3) scale(1,0.95)" class="tl" text-anchor="middle">16</text>
<line x1="440.84" y1="342.5" x2="440.84" y2="345.8" stroke="#000" stroke-width="2.4" stroke-linecap="round"/>
<line x1="463.09" y1="342.5" x2="463.09" y2="348.8" stroke="#000" stroke-width="2.4" stroke-linecap="round"/>
<text transform="translate(463.09,367.3) scale(1,0.95)" class="tl" text-anchor="middle">18</text>
<line x1="485.35" y1="342.5" x2="485.35" y2="345.8" stroke="#000" stroke-width="2.4" stroke-linecap="round"/>
<line x1="507.60" y1="342.5" x2="507.60" y2="348.8" stroke="#000" stroke-width="2.4" stroke-linecap="round"/>
<text transform="translate(507.60,367.3) scale(1,0.95)" class="tl" text-anchor="middle">20</text>
<line x1="62.5" y1="342.50" x2="56.2" y2="342.50" stroke="#000" stroke-width="2.4" stroke-linecap="round"/>
<text transform="translate(52.2,347.20) scale(1,0.95)" class="tl" text-anchor="end">0</text>
<line x1="62.5" y1="326.21" x2="59.1" y2="326.21" stroke="#000" stroke-width="2.4" stroke-linecap="round"/>
<line x1="62.5" y1="309.92" x2="56.2" y2="309.92" stroke="#000" stroke-width="2.4" stroke-linecap="round"/>
<text transform="translate(52.2,314.62) scale(1,0.95)" class="tl" text-anchor="end">1</text>
<line x1="62.5" y1="293.63" x2="59.1" y2="293.63" stroke="#000" stroke-width="2.4" stroke-linecap="round"/>
<line x1="62.5" y1="277.34" x2="56.2" y2="277.34" stroke="#000" stroke-width="2.4" stroke-linecap="round"/>
<text transform="translate(52.2,282.04) scale(1,0.95)" class="tl" text-anchor="end">2</text>
<line x1="62.5" y1="261.05" x2="59.1" y2="261.05" stroke="#000" stroke-width="2.4" stroke-linecap="round"/>
<line x1="62.5" y1="244.76" x2="56.2" y2="244.76" stroke="#000" stroke-width="2.4" stroke-linecap="round"/>
<text transform="translate(52.2,249.46) scale(1,0.95)" class="tl" text-anchor="end">3</text>
<line x1="62.5" y1="228.47" x2="59.1" y2="228.47" stroke="#000" stroke-width="2.4" stroke-linecap="round"/>
<line x1="62.5" y1="212.18" x2="56.2" y2="212.18" stroke="#000" stroke-width="2.4" stroke-linecap="round"/>
<text transform="translate(52.2,216.88) scale(1,0.95)" class="tl" text-anchor="end">4</text>
<line x1="62.5" y1="195.89" x2="59.1" y2="195.89" stroke="#000" stroke-width="2.4" stroke-linecap="round"/>
<line x1="62.5" y1="179.60" x2="56.2" y2="179.60" stroke="#000" stroke-width="2.4" stroke-linecap="round"/>
<text transform="translate(52.2,184.30) scale(1,0.95)" class="tl" text-anchor="end">5</text>
<line x1="62.5" y1="163.31" x2="59.1" y2="163.31" stroke="#000" stroke-width="2.4" stroke-linecap="round"/>
<line x1="62.5" y1="147.02" x2="56.2" y2="147.02" stroke="#000" stroke-width="2.4" stroke-linecap="round"/>
<text transform="translate(52.2,151.72) scale(1,0.95)" class="tl" text-anchor="end">6</text>
<line x1="62.5" y1="130.73" x2="59.1" y2="130.73" stroke="#000" stroke-width="2.4" stroke-linecap="round"/>
<line x1="62.5" y1="114.44" x2="56.2" y2="114.44" stroke="#000" stroke-width="2.4" stroke-linecap="round"/>
<text transform="translate(52.2,119.14) scale(1,0.95)" class="tl" text-anchor="end">7</text>
<line x1="62.5" y1="98.15" x2="59.1" y2="98.15" stroke="#000" stroke-width="2.4" stroke-linecap="round"/>
<line x1="62.5" y1="81.86" x2="56.2" y2="81.86" stroke="#000" stroke-width="2.4" stroke-linecap="round"/>
<text transform="translate(52.2,86.56) scale(1,0.95)" class="tl" text-anchor="end">8</text>
<line x1="62.5" y1="65.57" x2="59.1" y2="65.57" stroke="#000" stroke-width="2.4" stroke-linecap="round"/>
<line x1="62.5" y1="49.28" x2="56.2" y2="49.28" stroke="#000" stroke-width="2.4" stroke-linecap="round"/>
<text transform="translate(52.2,53.98) scale(1,0.95)" class="tl" text-anchor="end">9</text>
<line x1="62.5" y1="32.99" x2="59.1" y2="32.99" stroke="#000" stroke-width="2.4" stroke-linecap="round"/>
<line x1="62.5" y1="16.70" x2="56.2" y2="16.70" stroke="#000" stroke-width="2.4" stroke-linecap="round"/>
<text transform="translate(52.2,21.40) scale(1,0.95)" class="tl" text-anchor="end">10</text>
<path d="M564.2,13.4 H1007.5 V340.1 H564.2 Z" fill="none" stroke="#000" stroke-width="3" stroke-linejoin="round"/>
<line x1="564.20" y1="340.1" x2="564.20" y2="346.40000000000003" stroke="#000" stroke-width="2.4" stroke-linecap="round"/>
<text transform="translate(564.20,364.8) scale(1,0.95)" class="tl" text-anchor="middle">0</text>
<line x1="586.37" y1="340.1" x2="586.37" y2="343.40000000000003" stroke="#000" stroke-width="2.4" stroke-linecap="round"/>
<line x1="608.53" y1="340.1" x2="608.53" y2="346.40000000000003" stroke="#000" stroke-width="2.4" stroke-linecap="round"/>
<text transform="translate(608.53,364.8) scale(1,0.95)" class="tl" text-anchor="middle">2</text>
<line x1="630.70" y1="340.1" x2="630.70" y2="343.40000000000003" stroke="#000" stroke-width="2.4" stroke-linecap="round"/>
<line x1="652.86" y1="340.1" x2="652.86" y2="346.40000000000003" stroke="#000" stroke-width="2.4" stroke-linecap="round"/>
<text transform="translate(652.86,364.8) scale(1,0.95)" class="tl" text-anchor="middle">4</text>
<line x1="675.03" y1="340.1" x2="675.03" y2="343.40000000000003" stroke="#000" stroke-width="2.4" stroke-linecap="round"/>
<line x1="697.19" y1="340.1" x2="697.19" y2="346.40000000000003" stroke="#000" stroke-width="2.4" stroke-linecap="round"/>
<text transform="translate(697.19,364.8) scale(1,0.95)" class="tl" text-anchor="middle">6</text>
<line x1="719.36" y1="340.1" x2="719.36" y2="343.40000000000003" stroke="#000" stroke-width="2.4" stroke-linecap="round"/>
<line x1="741.52" y1="340.1" x2="741.52" y2="346.40000000000003" stroke="#000" stroke-width="2.4" stroke-linecap="round"/>
<text transform="translate(741.52,364.8) scale(1,0.95)" class="tl" text-anchor="middle">8</text>
<line x1="763.69" y1="340.1" x2="763.69" y2="343.40000000000003" stroke="#000" stroke-width="2.4" stroke-linecap="round"/>
<line x1="785.85" y1="340.1" x2="785.85" y2="346.40000000000003" stroke="#000" stroke-width="2.4" stroke-linecap="round"/>
<text transform="translate(785.85,364.8) scale(1,0.95)" class="tl" text-anchor="middle">10</text>
<line x1="808.02" y1="340.1" x2="808.02" y2="343.40000000000003" stroke="#000" stroke-width="2.4" stroke-linecap="round"/>
<line x1="830.18" y1="340.1" x2="830.18" y2="346.40000000000003" stroke="#000" stroke-width="2.4" stroke-linecap="round"/>
<text transform="translate(830.18,364.8) scale(1,0.95)" class="tl" text-anchor="middle">12</text>
<line x1="852.35" y1="340.1" x2="852.35" y2="343.40000000000003" stroke="#000" stroke-width="2.4" stroke-linecap="round"/>
<line x1="874.51" y1="340.1" x2="874.51" y2="346.40000000000003" stroke="#000" stroke-width="2.4" stroke-linecap="round"/>
<text transform="translate(874.51,364.8) scale(1,0.95)" class="tl" text-anchor="middle">14</text>
<line x1="896.67" y1="340.1" x2="896.67" y2="343.40000000000003" stroke="#000" stroke-width="2.4" stroke-linecap="round"/>
<line x1="918.84" y1="340.1" x2="918.84" y2="346.40000000000003" stroke="#000" stroke-width="2.4" stroke-linecap="round"/>
<text transform="translate(918.84,364.8) scale(1,0.95)" class="tl" text-anchor="middle">16</text>
<line x1="941.01" y1="340.1" x2="941.01" y2="343.40000000000003" stroke="#000" stroke-width="2.4" stroke-linecap="round"/>
<line x1="963.17" y1="340.1" x2="963.17" y2="346.40000000000003" stroke="#000" stroke-width="2.4" stroke-linecap="round"/>
<text transform="translate(963.17,364.8) scale(1,0.95)" class="tl" text-anchor="middle">18</text>
<line x1="985.34" y1="340.1" x2="985.34" y2="343.40000000000003" stroke="#000" stroke-width="2.4" stroke-linecap="round"/>
<line x1="1007.50" y1="340.1" x2="1007.50" y2="346.40000000000003" stroke="#000" stroke-width="2.4" stroke-linecap="round"/>
<text transform="translate(1007.50,364.8) scale(1,0.95)" class="tl" text-anchor="middle">20</text>
<line x1="564.2" y1="340.10" x2="557.9000000000001" y2="340.10" stroke="#000" stroke-width="2.4" stroke-linecap="round"/>
<text transform="translate(553.0,345.00) scale(1,0.95)" class="tl" text-anchor="end">0</text>
<line x1="564.2" y1="299.26" x2="560.8000000000001" y2="299.26" stroke="#000" stroke-width="2.4" stroke-linecap="round"/>
<line x1="564.2" y1="258.43" x2="557.9000000000001" y2="258.43" stroke="#000" stroke-width="2.4" stroke-linecap="round"/>
<text transform="translate(553.0,263.32) scale(1,0.95)" class="tl" text-anchor="end">1</text>
<line x1="564.2" y1="217.59" x2="560.8000000000001" y2="217.59" stroke="#000" stroke-width="2.4" stroke-linecap="round"/>
<line x1="564.2" y1="176.75" x2="557.9000000000001" y2="176.75" stroke="#000" stroke-width="2.4" stroke-linecap="round"/>
<text transform="translate(553.0,181.65) scale(1,0.95)" class="tl" text-anchor="end">2</text>
<line x1="564.2" y1="135.91" x2="560.8000000000001" y2="135.91" stroke="#000" stroke-width="2.4" stroke-linecap="round"/>
<line x1="564.2" y1="95.07" x2="557.9000000000001" y2="95.07" stroke="#000" stroke-width="2.4" stroke-linecap="round"/>
<text transform="translate(553.0,99.97) scale(1,0.95)" class="tl" text-anchor="end">3</text>
<line x1="564.2" y1="54.24" x2="560.8000000000001" y2="54.24" stroke="#000" stroke-width="2.4" stroke-linecap="round"/>
<line x1="564.2" y1="13.40" x2="557.9000000000001" y2="13.40" stroke="#000" stroke-width="2.4" stroke-linecap="round"/>
<text transform="translate(553.0,18.30) scale(1,0.95)" class="tl" text-anchor="end">4</text>
<line x1="71.3" y1="33.0" x2="105.2" y2="33.0" stroke="#000000" stroke-width="2"/>
<text transform="translate(108.8,38.3) scale(1,1.13)" class="lg">P3HT</text>
<line x1="71.3" y1="51.2" x2="105.2" y2="51.2" stroke="#ff0000" stroke-width="2"/>
<text transform="translate(108.8,56.5) scale(1,1.13)" class="lg">DMABI-OH</text>
<line x1="71.3" y1="69.35" x2="105.2" y2="69.35" stroke="#00ff00" stroke-width="2"/>
<text transform="translate(108.8,74.6) scale(1,1.13)" class="lg">DMABI-Ju</text>
<line x1="71.3" y1="87.5" x2="105.2" y2="87.5" stroke="#0000ff" stroke-width="2"/>
<text transform="translate(108.8,92.8) scale(1,1.13)" class="lg">P3HT / DMABI-OH</text>
<line x1="71.3" y1="105.7" x2="105.2" y2="105.7" stroke="#7a7a00" stroke-width="2"/>
<text transform="translate(108.8,111.0) scale(1,1.13)" class="lg">P3HT / DMABI-Ju</text>
<line x1="572.8" y1="31.9" x2="606.6" y2="31.9" stroke="#000000" stroke-width="2"/>
<text transform="translate(610.5,36.8) scale(1,1.13)" class="lg">P3HT</text>
<line x1="572.8" y1="50.1" x2="606.6" y2="50.1" stroke="#ff0000" stroke-width="2"/>
<text transform="translate(610.5,55.0) scale(1,1.13)" class="lg">DMABI-OH</text>
<line x1="572.8" y1="68.3" x2="606.6" y2="68.3" stroke="#00ff00" stroke-width="2"/>
<text transform="translate(610.5,73.2) scale(1,1.13)" class="lg">DMABI-Ju</text>
<line x1="572.8" y1="86.5" x2="606.6" y2="86.5" stroke="#0000ff" stroke-width="2"/>
<text transform="translate(610.5,91.4) scale(1,1.13)" class="lg">P3HT / DMABI-OH</text>
<line x1="572.8" y1="104.7" x2="606.6" y2="104.7" stroke="#7a7a00" stroke-width="2"/>
<text transform="translate(610.5,109.6) scale(1,1.13)" class="lg">P3HT / DMABI-Ju</text>
<text transform="translate(21.1,192.0) rotate(-90) scale(1.02,0.94)" class="at" text-anchor="middle">Voltage (V)</text>
<text transform="translate(532.4,187.1) rotate(-90) scale(1.02,0.94)" class="at" text-anchor="middle">Voltage (V)</text>
<text x="285.2" y="394.9" class="xt" text-anchor="middle">t (s)</text>
<text x="785.9" y="391.9" class="xt" text-anchor="middle">t (s)</text>
<text x="467.9" y="60" class="pl" text-anchor="middle">(a)</text>
<text x="967.8" y="54" class="pl" text-anchor="middle">(b)</text>
<text transform="translate(190.0,326) scale(1,1.085)" class="big">W</text>
<text x="223.3" y="326" class="big">ithout light</text>
<text transform="translate(714.9,320.8) scale(1,1.085)" class="big">W</text>
<text x="748.2" y="320.8" class="big">ith light</text>
</svg>
</body></html>
